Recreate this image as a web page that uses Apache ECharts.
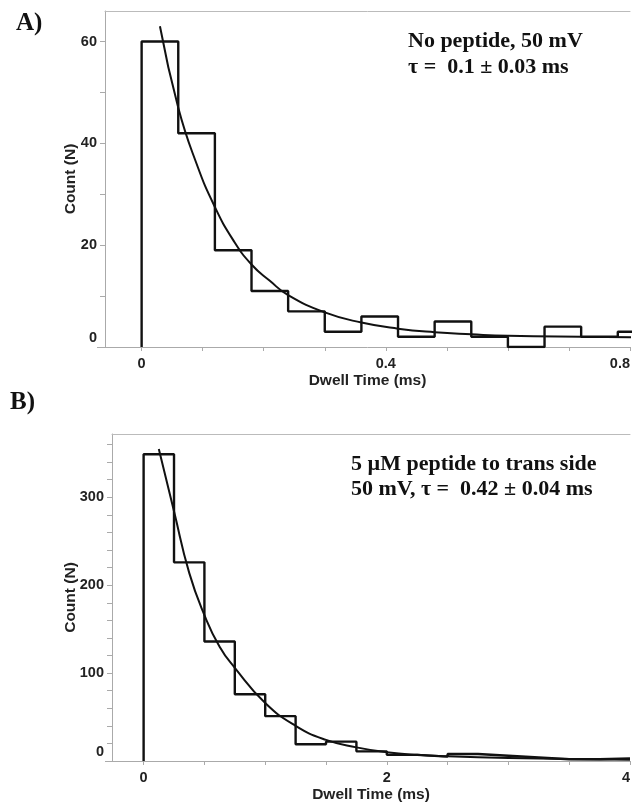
<!DOCTYPE html>
<html>
<head>
<meta charset="utf-8">
<script src="https://cdn.jsdelivr.net/npm/echarts@6/dist/echarts.min.js"></script>
<style>
  html, body { margin: 0; padding: 0; background: #fff; }
  #chart { width: 633px; height: 806px; }
</style>
</head>
<body>
<div id="chart"></div>
<script>
// panel A - no peptide, 50 mV
const binStartA = [0, 0.06, 0.12, 0.18, 0.24, 0.30, 0.36, 0.42, 0.48, 0.54, 0.60, 0.66, 0.72, 0.78]
const binWidthA = 0.06
const countA = [60, 42, 19, 11, 7, 3, 6, 2, 5, 2, 0, 4, 2, 3]
const fitTimeA = [0.03, 0.06, 0.09, 0.12, 0.15, 0.18, 0.21, 0.24, 0.30, 0.36, 0.42, 0.48, 0.54, 0.60, 0.72, 0.84]
const fitCountA = [63, 47, 36, 27.5, 21, 16.2, 13, 10.2, 6.8, 4.8, 3.6, 2.9, 2.5, 2.2, 2.0, 1.9]
const xLabelsA = [0, 0.4, 0.8]
const xTicksA = [0, 0.1, 0.2, 0.3, 0.4, 0.5, 0.6, 0.7, 0.8]
const yLabelsA = [0, 20, 40, 60]
const yTicksA = [0, 10, 20, 30, 40, 50, 60]

// panel B - 5 uM peptide to trans side
const binStartB = [0, 0.25, 0.5, 0.75, 1.0, 1.25, 1.5, 1.75, 2.0, 2.25, 2.5, 2.75, 3.0, 3.25, 3.5, 3.75]
const binWidthB = 0.25
const countB = [349, 226, 136, 76, 51, 19, 22, 11, 7, 5, 8, 6, 4, 2, 2, 3]
const fitTimeB = [0.125, 0.25, 0.375, 0.5, 0.625, 0.75, 1.0, 1.25, 1.5, 1.75, 2.0, 2.25, 2.5, 3.0, 3.5, 4.0]
const fitCountB = [355, 284, 214, 166, 130, 106, 66, 40, 24, 15.5, 10, 7, 5.5, 3.5, 2.2, 1.5]
const xLabelsB = [0, 2, 4]
const xTicksB = [0, 0.5, 1, 1.5, 2, 2.5, 3, 3.5, 4]
const yLabelsB = [0, 100, 200, 300]
const yTicksB = [0, 20, 40, 60, 80, 100, 120, 140, 160, 180, 200, 220, 240, 260, 280, 300, 320, 340, 360]

const gridA = { left: 105, right: 0, top: 11, height: 336 }
const gridB = { left: 112, right: 0, top: 434, height: 327 }

const axisGray = '#aaa'
const ink = '#111'
const tickFont = { fontFamily: 'Liberation Sans', fontWeight: 'bold', fontSize: 14.5, color: '#222' }
const nameFont = { fontFamily: 'Liberation Sans', fontWeight: 'bold', fontSize: 15.5, color: '#222' }
const serif = { fontFamily: 'Liberation Serif', fontWeight: 'bold', color: ink }

// outline of the histogram, left edge up from the baseline then one step per bin
function stepPoints(starts, width, counts) {
  const pts = [[starts[0], 0]]
  starts.forEach((s, i) => {
    pts.push([s, counts[i]], [s + width, counts[i]])
  })
  return pts
}

function xAxes(grid, min, max, labels, ticks) {
  return [
    {
      type: 'value', gridIndex: grid, min, max,
      name: 'Dwell Time (ms)', nameLocation: 'middle', nameGap: 26, nameTextStyle: nameFont,
      nameMoveOverlap: false,
      axisLine: { onZero: false, lineStyle: { color: axisGray } },
      axisTick: { customValues: ticks, length: 4, lineStyle: { color: axisGray } },
      axisLabel: { customValues: labels, margin: 9, alignMaxLabel: 'right', ...tickFont },
      splitLine: { show: false },
    },
    {
      // frame line along the top of the plot
      type: 'value', gridIndex: grid, min, max, position: 'top',
      axisLine: { onZero: false, lineStyle: { color: '#bbb' } },
      axisTick: { show: false }, axisLabel: { show: false }, splitLine: { show: false },
    },
  ]
}

function yAxis(grid, max, labels, ticks, gap) {
  return {
    type: 'value', gridIndex: grid, min: 0, max,
    name: 'Count (N)', nameLocation: 'middle', nameRotate: 90, nameGap: gap, nameTextStyle: nameFont,
    nameMoveOverlap: false,
    axisLine: { show: true, onZero: false, lineStyle: { color: axisGray } },
    axisTick: { show: true, customValues: ticks, length: 5, lineStyle: { color: axisGray } },
    axisLabel: {
      customValues: labels, margin: 8, ...tickFont,
      formatter: v => (v === 0 ? '{z|0}' : String(v)),
      rich: { z: { ...tickFont, padding: [0, 0, 18, 0] } },
    },
    splitLine: { show: false },
  }
}

function histSeries(idx, pts) {
  return {
    type: 'line', xAxisIndex: idx * 2, yAxisIndex: idx, data: pts,
    showSymbol: false, symbol: 'none', lineStyle: { color: ink, width: 2.4 },
  }
}

function fitSeries(idx, t, y) {
  return {
    type: 'line', xAxisIndex: idx * 2, yAxisIndex: idx,
    data: t.map((v, i) => [v, y[i]]),
    smooth: true, showSymbol: false, symbol: 'none', lineStyle: { color: ink, width: 2 },
  }
}

const axisBottomA = gridA.top + gridA.height + 0.5
const axisBottomB = gridB.top + gridB.height + 0.5

const chart = echarts.init(document.getElementById('chart'))
chart.setOption({
  animation: false,
  backgroundColor: '#fff',
  title: [
    { text: 'A)', left: 16, top: 9, padding: 0, textStyle: { ...serif, fontSize: 25, lineHeight: 30 } },
    { text: 'B)', left: 10, top: 388, padding: 0, textStyle: { ...serif, fontSize: 25, lineHeight: 30 } },
    {
      text: 'No peptide, 50 mV\nτ =  0.1 ± 0.03 ms', left: 408, top: 28, padding: 0,
      textStyle: { ...serif, fontSize: 22, lineHeight: 26 },
    },
    {
      text: '5 µM peptide to trans side\n50 mV, τ =  0.42 ± 0.04 ms', left: 351, top: 452, padding: 0,
      textStyle: { ...serif, fontSize: 22, lineHeight: 25 },
    },
  ],
  grid: [gridA, gridB],
  xAxis: [...xAxes(0, -0.06, 0.8, xLabelsA, xTicksA), ...xAxes(1, -0.26, 4, xLabelsB, xTicksB)],
  yAxis: [yAxis(0, 66, yLabelsA, yTicksA, 26), yAxis(1, 372, yLabelsB, yTicksB, 33)],
  series: [
    histSeries(0, stepPoints(binStartA, binWidthA, countA)),
    fitSeries(0, fitTimeA, fitCountA),
    histSeries(1, stepPoints(binStartB, binWidthB, countB)),
    fitSeries(1, fitTimeB, fitCountB),
  ],
  graphic: [
    // x axis line sticks out a little to the left of the y axis
    { type: 'line', shape: { x1: gridA.left - 8, y1: axisBottomA, x2: gridA.left, y2: axisBottomA }, style: { stroke: axisGray, lineWidth: 1 } },
    { type: 'line', shape: { x1: gridB.left - 7, y1: axisBottomB, x2: gridB.left, y2: axisBottomB }, style: { stroke: axisGray, lineWidth: 1 } },
  ],
})
</script>
</body>
</html>
